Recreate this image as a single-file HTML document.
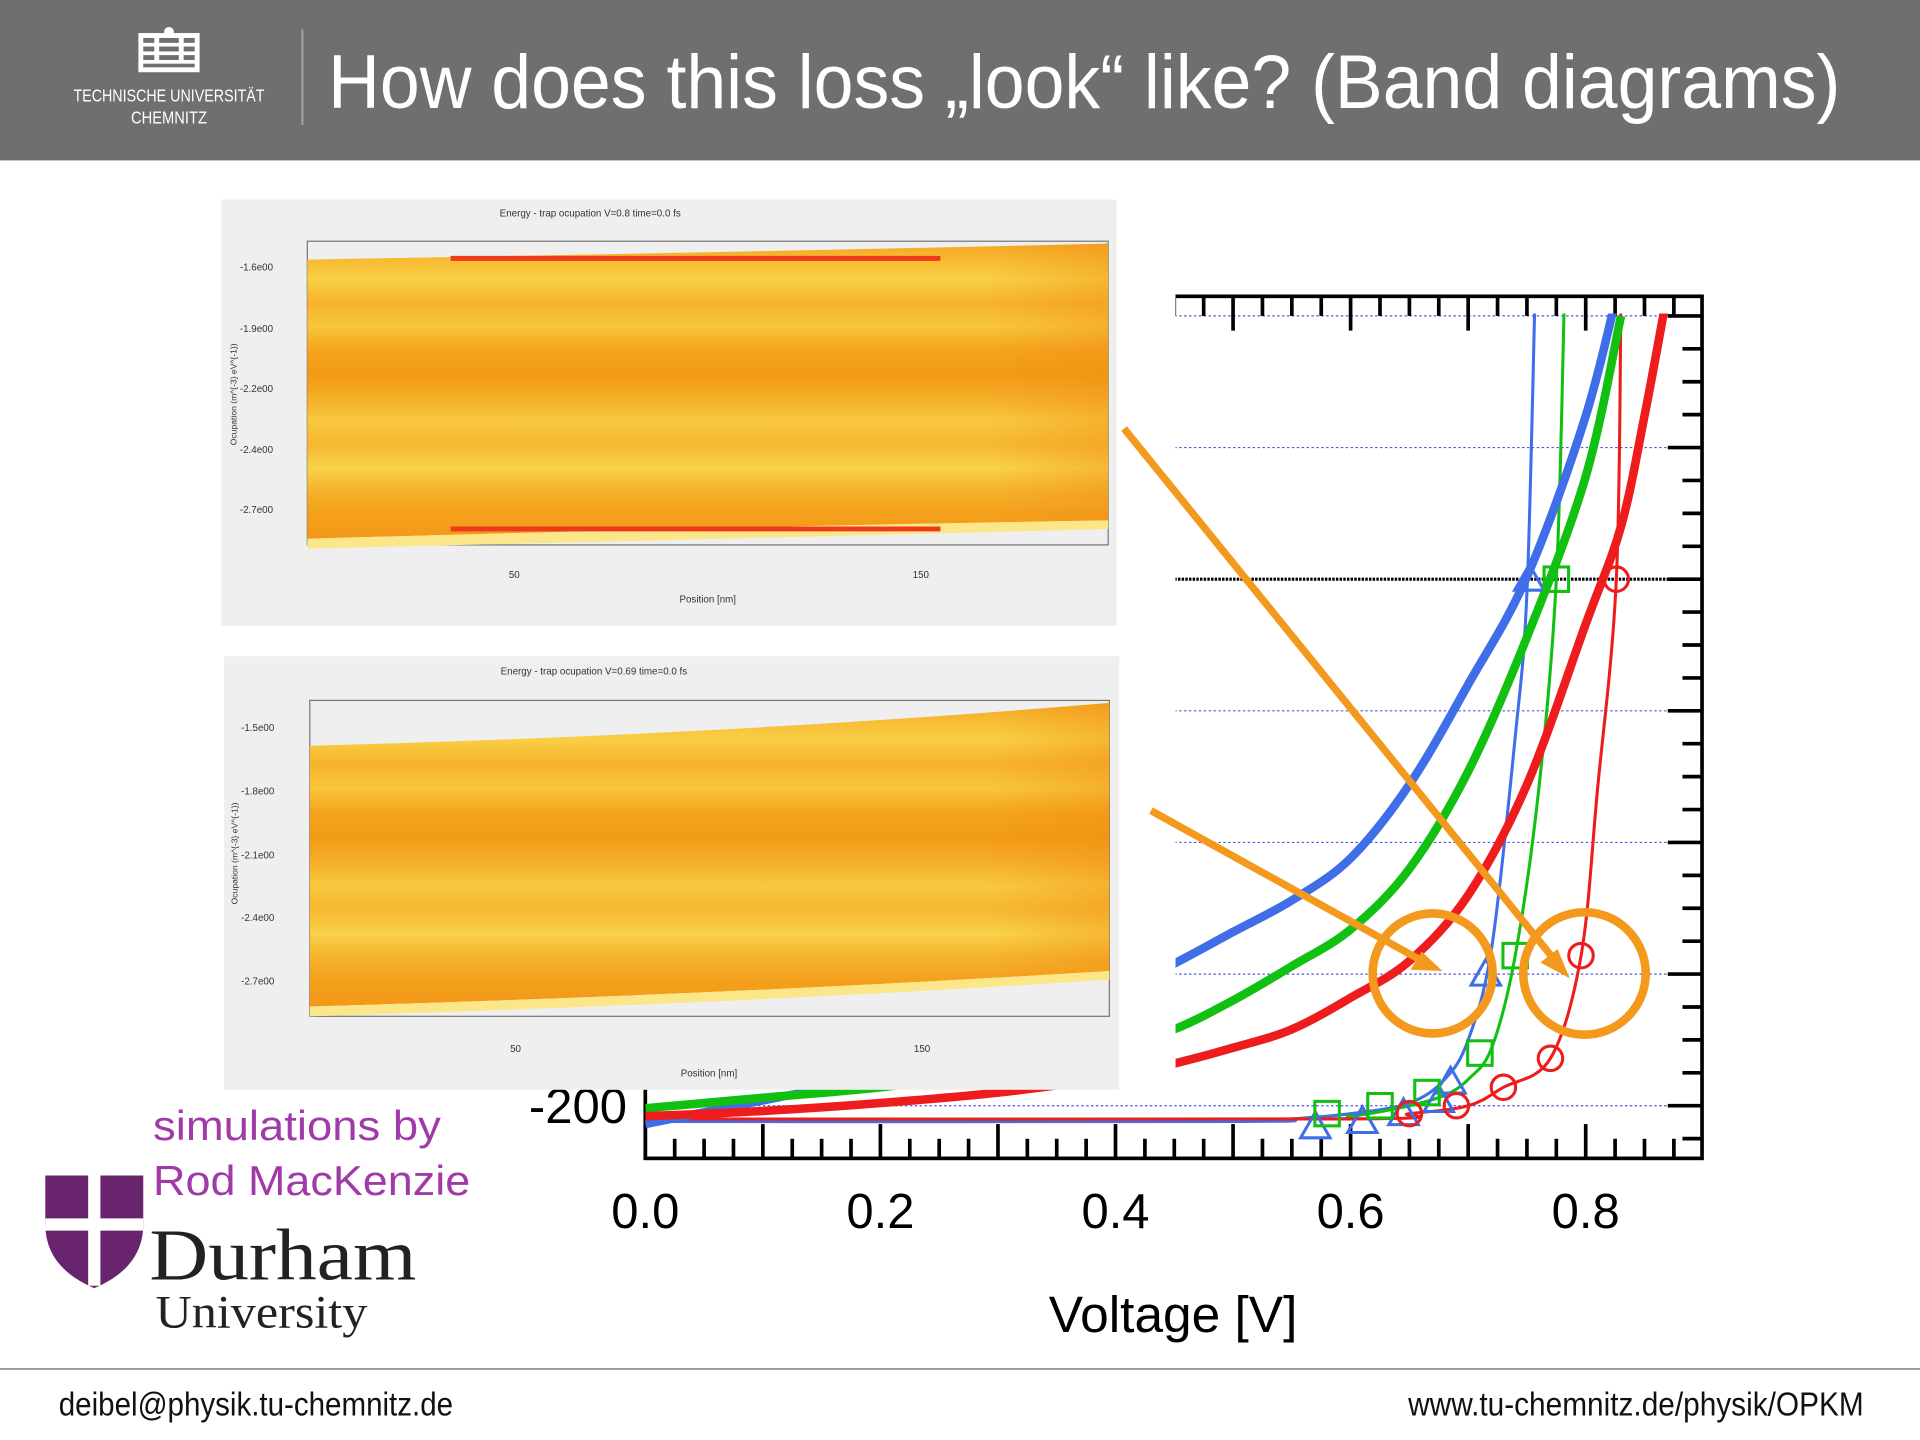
<!DOCTYPE html>
<html><head><meta charset="utf-8"><style>
html,body{margin:0;padding:0;background:#fff;}
svg{display:block;}
</style></head><body>
<svg id="slide" width="1920" height="1440" viewBox="0 0 1568 1176" xmlns="http://www.w3.org/2000/svg">
<defs>
<linearGradient id="heat" x1="0" y1="0" x2="0" y2="1">
<stop offset="0" stop-color="#f5a623"/><stop offset="0.06" stop-color="#f7bd34"/><stop offset="0.12" stop-color="#f9cf45"/><stop offset="0.2" stop-color="#f6b32a"/><stop offset="0.28" stop-color="#f8c63c"/><stop offset="0.36" stop-color="#f4a41e"/><stop offset="0.44" stop-color="#f29a16"/><stop offset="0.52" stop-color="#f5ad27"/><stop offset="0.6" stop-color="#f8c840"/><stop offset="0.68" stop-color="#f6b82f"/><stop offset="0.76" stop-color="#f9d24c"/><stop offset="0.84" stop-color="#f5b12a"/><stop offset="0.92" stop-color="#f4a01c"/><stop offset="1" stop-color="#f3981a"/>
</linearGradient>
<linearGradient id="heatH" x1="0" y1="0" x2="1" y2="0">
<stop offset="0" stop-color="#fff" stop-opacity="0"/><stop offset="0.85" stop-color="#f08a10" stop-opacity="0"/><stop offset="1" stop-color="#f08a10" stop-opacity="0.35"/>
</linearGradient>
</defs>

<!-- header -->
<rect x="0" y="0" width="1568" height="131" fill="#6f6f6e"/>
<g fill="#fff">
<rect x="113" y="27" width="50" height="32" fill="#fff"/>
<g fill="#6f6f6e"><rect x="117" y="31" width="9" height="4"/><rect x="130" y="31" width="16" height="4"/><rect x="150" y="31" width="9" height="4"/><rect x="117" y="38" width="9" height="4"/><rect x="130" y="38" width="16" height="4"/><rect x="150" y="38" width="9" height="4"/><rect x="117" y="45" width="9" height="4"/><rect x="130" y="45" width="16" height="4"/><rect x="150" y="45" width="9" height="4"/><rect x="117" y="52" width="42" height="3"/></g>
<circle cx="138" cy="26" r="4"/>
<text x="138" y="83" font-family="Liberation Sans Narrow, Liberation Sans, sans-serif" font-size="14" text-anchor="middle" fill="#fff" textLength="156" lengthAdjust="spacingAndGlyphs">TECHNISCHE UNIVERSITÄT</text>
<text x="138" y="101" font-family="Liberation Sans Narrow, Liberation Sans, sans-serif" font-size="14" text-anchor="middle" fill="#fff" textLength="62" lengthAdjust="spacingAndGlyphs">CHEMNITZ</text>
</g>
<line x1="247" y1="24" x2="247" y2="102" stroke="#a8a8a8" stroke-width="1.5"/>
<text x="268" y="88" font-family="Liberation Sans Narrow, Liberation Sans, sans-serif" font-size="62" fill="#fff" textLength="1235" lengthAdjust="spacingAndGlyphs">How does this loss „look“ like? (Band diagrams)</text>

<!-- chart -->
<g id="chart"></g>
<rect x="470" y="225" width="490" height="662" fill="#fff"/>

<!-- insets -->
<g>
<rect x="181" y="163" width="731" height="348" fill="#efefef"/>
<text x="482" y="177" font-family="Liberation Sans Narrow, Liberation Sans, sans-serif" font-size="8" fill="#333" text-anchor="middle">Energy - trap ocupation V=0.8 time=0.0 fs</text>
<rect x="251" y="197" width="654" height="248" fill="none" stroke="#777" stroke-width="1"/>
<path d="M251 212 Q600 206 905 199 L905 425 Q600 430 251 440 Z" fill="url(#heat)"/>
<path d="M251 212 Q600 206 905 199 L905 425 Q600 430 251 440 Z" fill="url(#heatH)"/>
<path d="M251 440 Q600 430 905 425 L905 432 Q600 440 251 448 Z" fill="#fbe68a"/>
<line x1="368" y1="211" x2="768" y2="211" stroke="#ee3a1a" stroke-width="4"/>
<line x1="368" y1="432" x2="768" y2="432" stroke="#ee3a1a" stroke-width="4"/>
<g font-family="Liberation Sans Narrow, Liberation Sans, sans-serif" font-size="8" fill="#333" text-anchor="end">
<text x="223" y="221">-1.6e00</text><text x="223" y="271">-1.9e00</text><text x="223" y="320">-2.2e00</text><text x="223" y="370">-2.4e00</text><text x="223" y="419">-2.7e00</text></g>
<text x="420" y="472" font-family="Liberation Sans" font-size="8" fill="#333" text-anchor="middle">50</text>
<text x="752" y="472" font-family="Liberation Sans" font-size="8" fill="#333" text-anchor="middle">150</text>
<text x="578" y="492" font-family="Liberation Sans Narrow, Liberation Sans, sans-serif" font-size="8" fill="#333" text-anchor="middle">Position [nm]</text>
<text transform="translate(193 322) rotate(-90)" font-family="Liberation Sans" font-size="7" fill="#333" text-anchor="middle">Ocupation (m^{-3} eV^{-1})</text>
</g>
<g>
<rect x="183" y="536" width="731" height="354" fill="#efefef"/>
<text x="485" y="551" font-family="Liberation Sans Narrow, Liberation Sans, sans-serif" font-size="8" fill="#333" text-anchor="middle">Energy - trap ocupation V=0.69 time=0.0 fs</text>
<rect x="253" y="572" width="653" height="258" fill="none" stroke="#777" stroke-width="1"/>
<path d="M253 609 Q600 600 906 574 L906 793 Q600 812 253 822 Z" fill="url(#heat)"/>
<path d="M253 609 Q600 600 906 574 L906 793 Q600 812 253 822 Z" fill="url(#heatH)"/>
<path d="M253 822 Q600 812 906 793 L906 800 Q600 820 253 830 Z" fill="#fbe68a"/>
<g font-family="Liberation Sans Narrow, Liberation Sans, sans-serif" font-size="8" fill="#333" text-anchor="end">
<text x="224" y="597">-1.5e00</text><text x="224" y="649">-1.8e00</text><text x="224" y="701">-2.1e00</text><text x="224" y="752">-2.4e00</text><text x="224" y="804">-2.7e00</text></g>
<text x="421" y="859" font-family="Liberation Sans" font-size="8" fill="#333" text-anchor="middle">50</text>
<text x="753" y="859" font-family="Liberation Sans" font-size="8" fill="#333" text-anchor="middle">150</text>
<text x="579" y="879" font-family="Liberation Sans Narrow, Liberation Sans, sans-serif" font-size="8" fill="#333" text-anchor="middle">Position [nm]</text>
<text transform="translate(194 697) rotate(-90)" font-family="Liberation Sans" font-size="7" fill="#333" text-anchor="middle">Ocupation (m^{-3} eV^{-1})</text>
</g>

<!-- annotations -->
<g stroke="#f39a1e" fill="none">
<line x1="918" y1="350" x2="1268" y2="782" stroke-width="6"/>
<polygon points="1282,799 1258,786 1272,775" fill="#f39a1e" stroke="none"/>
<line x1="940" y1="662" x2="1160" y2="784" stroke-width="6"/>
<polygon points="1178,793 1152,792 1161,777" fill="#f39a1e" stroke="none"/>
<circle cx="1170" cy="795" r="49" stroke-width="7"/>
<circle cx="1294" cy="795" r="50" stroke-width="7"/>
</g>

<!-- credits -->
<text x="125" y="931" font-family="Liberation Sans" font-size="34" fill="#a03aa8" textLength="235" lengthAdjust="spacingAndGlyphs">simulations by</text>
<text x="125" y="976" font-family="Liberation Sans" font-size="34" fill="#a03aa8" textLength="259" lengthAdjust="spacingAndGlyphs">Rod MacKenzie</text>
<g>
<path d="M37 960 L117 960 L117 1000 Q117 1035 77 1052 Q37 1035 37 1000 Z" fill="#68246d"/>
<path d="M72 960 L82 960 L82 1050 L72 1050 Z M37 995 L117 995 L117 1005 L37 1005 Z" fill="#fff"/>
<text x="122" y="1045" font-family="Liberation Serif, serif" font-size="60" fill="#222" textLength="218" lengthAdjust="spacingAndGlyphs">Durham</text>
<text x="127" y="1084" font-family="Liberation Serif, serif" font-size="38" fill="#222" textLength="173" lengthAdjust="spacingAndGlyphs">University</text>
</g>

<!-- footer -->
<line x1="0" y1="1118" x2="1568" y2="1118" stroke="#999" stroke-width="1.5"/>
<text x="48" y="1156" font-family="Liberation Sans Narrow, Liberation Sans, sans-serif" font-size="27" fill="#111" textLength="322" lengthAdjust="spacingAndGlyphs">deibel@physik.tu-chemnitz.de</text>
<text x="1150" y="1156" font-family="Liberation Sans Narrow, Liberation Sans, sans-serif" font-size="27" fill="#111" textLength="372" lengthAdjust="spacingAndGlyphs">www.tu-chemnitz.de/physik/OPKM</text>
</svg>
<script>
const voltages = [0, 0.1, 0.2, 0.3, 0.4, 0.45, 0.5, 0.55, 0.6, 0.65, 0.7, 0.75, 0.8, 0.83];
const blueThick = [-207, -198, -189, -177, -157, -146, -134, -122, -106, -78, -40, 1, 62, 115];
const greenThick = [-201, -197, -193, -187, -178, -171, -160, -147, -133, -110, -73, -22, 39, 100];
const redThick = [-204, -202, -199, -195, -189, -184, -178, -171, -159, -145, -120, -78, -17, 20];
const redThickTailV = [0.85, 0.87];
const redThickTailJ = [62, 110];
const thinV = [0, 0.5, 0.55, 0.6, 0.65, 0.68, 0.7, 0.72, 0.74, 0.75, 0.757];
const blueThin = [-206, -206, -205, -203, -199, -190, -175, -140, -60, -5, 110];
const greenThinV = [0, 0.55, 0.6, 0.65, 0.68, 0.7, 0.72, 0.74, 0.76, 0.775, 0.782];
const greenThin = [-205, -205, -204, -200, -196, -190, -178, -143, -80, 0, 110];
const redThinV = [0, 0.6, 0.65, 0.7, 0.73, 0.77, 0.796, 0.81, 0.826, 0.83];
const redThin = [-205, -205, -203, -200, -193, -182, -143, -80, 0, 110];
const blueMarkV = [0.57, 0.61, 0.645, 0.675, 0.685, 0.715, 0.752];
const blueMarkJ = [-208, -206, -203, -198, -191, -150, 0];
const greenMarkV = [0.58, 0.625, 0.665, 0.71, 0.74, 0.775];
const greenMarkJ = [-203, -200, -195, -180, -143, 0];
const redMarkV = [0.65, 0.69, 0.73, 0.77, 0.796, 0.826];
const redMarkJ = [-203, -200, -193, -182, -143, 0];
const xTicks = [0, 0.2, 0.4, 0.6, 0.8];
const xTickLabels = ["0.0", "0.2", "0.4", "0.6", "0.8"];
const gridJ = [-200, -150, -100, -50, 0, 50, 100];

const NS = "http://www.w3.org/2000/svg";
const X0 = 527, X1 = 1390, Y0 = 242, Y1 = 946;
const sx = v => 527 + v * 960;
const sy = j => 473 - j * 2.15;
const g = document.getElementById('chart');
function mk(tag, attrs, parent) {
  const e = document.createElementNS(NS, tag);
  for (const k in attrs) e.setAttribute(k, attrs[k]);
  (parent || g).appendChild(e);
  return e;
}
const clip = mk('clipPath', {id: 'plotclip'});
mk('rect', {x: X0, y: Y0 + 14, width: X1 - X0, height: Y1 - Y0 - 14}, clip);

gridJ.forEach(j => {
  const l = mk('line', {x1: X0, x2: X1, y1: sy(j), y2: sy(j), stroke: j === 0 ? '#000' : '#5555dd', 'stroke-width': j === 0 ? 2.5 : 1, 'stroke-dasharray': j === 0 ? '2 1' : '2 2'});
  
  
});
const fr = mk('rect', {x: X0, y: Y0, width: X1 - X0, height: Y1 - Y0, fill: 'none', stroke: '#000', 'stroke-width': 3});


for (let i = 0; i <= 36; i++) {
  const v = i * 0.025; const x = sx(v);
  if (x > X1) break;
  const major = i % 4 === 0;
  const len = major ? 28 : 16;
  mk('line', {x1: x, x2: x, y1: Y1, y2: Y1 - len, stroke: '#000', 'stroke-width': 3});
  mk('line', {x1: x, x2: x, y1: Y0, y2: Y0 + len, stroke: '#000', 'stroke-width': 3});
}
for (let j = -225; j <= 110; j += 12.5) {
  const y = sy(j); if (y < Y0 || y > Y1) continue;
  const major = Math.abs(j % 50) < 0.01;
  mk('line', {x1: X1, x2: X1 - (major ? 28 : 16), y1: y, y2: y, stroke: '#000', 'stroke-width': 3});
}
xTicks.forEach((v, i) => {
  const t = mk('text', {x: sx(v), y: 1003, 'font-family': 'Liberation Sans, sans-serif', 'font-size': 40, 'text-anchor': 'middle', fill: '#000'});
  t.textContent = xTickLabels[i];
  
  
});
const yl = mk('text', {x: 512, y: 917, 'font-family': 'Liberation Sans, sans-serif', 'font-size': 40, 'text-anchor': 'end', fill: '#000'});
yl.textContent = '-200';


const xt = mk('text', {x: 958, y: 1088, 'font-family': 'Liberation Sans, sans-serif', 'font-size': 42, 'text-anchor': 'middle', fill: '#000'});
xt.textContent = 'Voltage [V]';



function smoothPath(pts) {
  let d = 'M' + pts[0][0].toFixed(1) + ' ' + pts[0][1].toFixed(1);
  for (let i = 0; i < pts.length - 1; i++) {
    const p0 = pts[Math.max(0, i - 1)], p1 = pts[i], p2 = pts[i + 1], p3 = pts[Math.min(pts.length - 1, i + 2)];
    const c1x = p1[0] + (p2[0] - p0[0]) / 6, c1y = p1[1] + (p2[1] - p0[1]) / 6;
    const c2x = p2[0] - (p3[0] - p1[0]) / 6, c2y = p2[1] - (p3[1] - p1[1]) / 6;
    d += ` C${c1x.toFixed(1)} ${c1y.toFixed(1)} ${c2x.toFixed(1)} ${c2y.toFixed(1)} ${p2[0].toFixed(1)} ${p2[1].toFixed(1)}`;
  }
  return d;
}
function line(xs, ys, color, w, name) {
  const pts = xs.map((v, i) => [sx(v), sy(ys[i])]);
  const p = mk('path', {d: smoothPath(pts), fill: 'none', stroke: color, 'stroke-width': w, 'stroke-linejoin': 'round', 'clip-path': 'url(#plotclip)'});
  
  
}
const BLUE = '#3f6ee8', GREEN = '#11c011', RED = '#ee1c1c';
line(thinV, blueThin, BLUE, 2.5, 'blue-thin-curve');
line(greenThinV, greenThin, GREEN, 2.5, 'green-thin-curve');
line(redThinV, redThin, RED, 2.5, 'red-thin-curve');
line(voltages, blueThick, BLUE, 7, 'blue-thick-curve');
line(voltages, greenThick, GREEN, 7, 'green-thick-curve');
line(voltages.concat(redThickTailV), redThick.concat(redThickTailJ), RED, 7, 'red-thick-curve');
blueMarkV.forEach((v, i) => {
  const x = sx(v), y = sy(blueMarkJ[i]);
  const m = mk('polygon', {points: `${x},${y - 12} ${x - 12},${y + 9} ${x + 12},${y + 9}`, fill: 'none', stroke: BLUE, 'stroke-width': 2.5});
  
  
});
greenMarkV.forEach((v, i) => {
  const x = sx(v), y = sy(greenMarkJ[i]);
  const m = mk('rect', {x: x - 10, y: y - 10, width: 20, height: 20, fill: 'none', stroke: GREEN, 'stroke-width': 2.5});
  
  
});
redMarkV.forEach((v, i) => {
  const m = mk('circle', {cx: sx(v), cy: sy(redMarkJ[i]), r: 10, fill: 'none', stroke: RED, 'stroke-width': 2.5});
  
  
});
</script>
</body></html>
